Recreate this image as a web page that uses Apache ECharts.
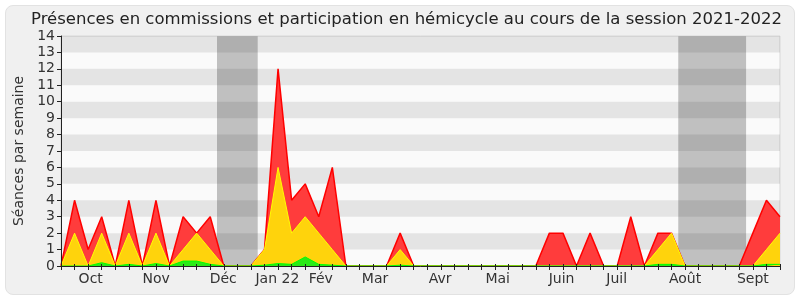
<!DOCTYPE html>
<html>
<head>
<meta charset="utf-8">
<script src="https://cdn.jsdelivr.net/npm/echarts@6/dist/echarts.min.js"></script>
<style>
  html, body { margin: 0; padding: 0; background: #ffffff; }
  #frame { position: absolute; left: 5px; top: 5px; width: 788px; height: 288px; background: #f0f0f0; border: 1px solid #e2e2e2; border-radius: 8px; }
  #chart { position: absolute; left: 0; top: 0; width: 800px; height: 300px; }
</style>
</head>
<body>
<div id="frame"></div>
<div id="chart"></div>
<script>
// Weekly values, week index 0..53
const weeks = Array.from({length: 54}, (_, i) => i);
const commissions = [0,4,1,3,0,4,0,4,0,3,2,3,0,0,0,1,12,4,5,3,6,0,0,0,0,2,0,0,0,0,0,0,0,0,0,0,2,2,0,2,0,0,3,0,2,2,0,0,0,0,0,2,4,3];
const hemicycle   = [0,2,0,2,0,2,0,2,0,1,2,1,0,0,0,1,6,2,3,2,1,0,0,0,0,1,0,0,0,0,0,0,0,0,0,0,0,0,0,0,0,0,0,0,1,2,0,0,0,0,0,0,1,2];
const questions   = [0,0,0,0.2,0,0.1,0,0.15,0,0.3,0.3,0.1,0,0,0,0.05,0.15,0.1,0.55,0.1,0.05,0,0,0,0,0.05,0,0,0,0,0,0,0,0,0,0,0,0,0,0,0,0,0,0,0.1,0.1,0,0,0,0,0,0,0.1,0.1];
// Holiday periods (in week index units)
const vacations = [[11.5, 14.5], [45.5, 50.5]];
// Month labels and their positions (week index units)
const monthLabels = ['Oct','Nov','Déc','Jan 22','Fév','Mar','Avr','Mai','Juin','Juil','Août','Sept'];
const monthPos    = [2.19, 7.02, 11.96, 15.95, 19.15, 23.15, 27.94, 32.19, 36.9, 40.96, 46.0, 51.0];
const yTicks = [0,1,2,3,4,5,6,7,8,9,10,11,12,13,14];

const font = 'DejaVu Sans';
const stripes = yTicks.filter(v => v % 2 === 1).map(v => [{yAxis: v}, {yAxis: v + 1}]);

const chart = echarts.init(document.getElementById('chart'), null, {renderer: 'canvas'});
chart.setOption({
  animation: false,
  backgroundColor: 'transparent',
  title: {
    text: 'Présences en commissions et participation en hémicycle au cours de la session 2021-2022',
    left: 26, top: 6,
    textStyle: { fontFamily: font, fontSize: 16.5, fontWeight: 'normal', color: '#222' }
  },
  grid: { left: 61, right: 20, top: 36, bottom: 34, show: true, backgroundColor: '#fafafa', borderColor: '#d8d8d8', borderWidth: 1 },
  xAxis: [{
    type: 'value', min: 0, max: 53, z: 10,
    axisLine: { show: true, onZero: false, lineStyle: { color: '#222', width: 1 } },
    axisTick: { show: true, length: 4, lineStyle: { color: '#222' }, customValues: weeks },
    axisLabel: { customValues: monthPos, margin: 6, fontFamily: font, fontSize: 14, color: '#333',
      formatter: v => { const k = monthPos.indexOf(v); return k >= 0 ? monthLabels[k] : ''; } },
    splitLine: { show: false }
  }, {
    type: 'value', min: 0, max: 53, position: 'top', z: 10,
    axisLine: { show: false },
    axisTick: { show: true, inside: false, length: 2, lineStyle: { color: '#222' }, customValues: weeks },
    axisLabel: { show: false },
    splitLine: { show: false }
  }],
  yAxis: {
    type: 'value', min: 0, max: 14, interval: 1, z: 10,
    name: 'Séances par semaine', nameLocation: 'middle', nameGap: 33,
    nameTextStyle: { fontFamily: font, fontSize: 14, color: '#333' },
    axisLine: { show: true, lineStyle: { color: '#222' } },
    axisTick: { show: true, length: 4, lineStyle: { color: '#222' } },
    axisLabel: { margin: 6, fontFamily: font, fontSize: 14, color: '#333' },
    splitLine: { show: false }, splitArea: { show: false }
  },
  series: [
    { type: 'line', data: [], z: 1, silent: true,
      markArea: { silent: true, itemStyle: { color: '#c0c0c0' },
        data: vacations.map(v => [{xAxis: v[0]}, {xAxis: v[1]}]) } },
    { type: 'line', data: [], z: 1.5, silent: true,
      markArea: { silent: true, itemStyle: { color: 'rgba(0,0,0,0.085)' }, data: stripes } },
    { type: 'line', name: 'commissions', z: 3, symbol: 'none',
      data: weeks.map((w, i) => [w, commissions[i]]),
      lineStyle: { color: '#ff0000', width: 1.5 }, areaStyle: { color: '#ff3c3c', opacity: 1 } },
    { type: 'line', name: 'hemicycle', z: 4, symbol: 'none',
      data: weeks.map((w, i) => [w, hemicycle[i]]),
      lineStyle: { color: '#ffff00', width: 1 }, areaStyle: { color: '#ffd30c', opacity: 1 } },
    { type: 'line', name: 'questions', z: 5, symbol: 'none',
      data: weeks.map((w, i) => [w, questions[i]]),
      lineStyle: { color: '#00ff00', width: 1 }, areaStyle: { color: '#2bea16', opacity: 1 } }
  ]
});
</script>
</body>
</html>
